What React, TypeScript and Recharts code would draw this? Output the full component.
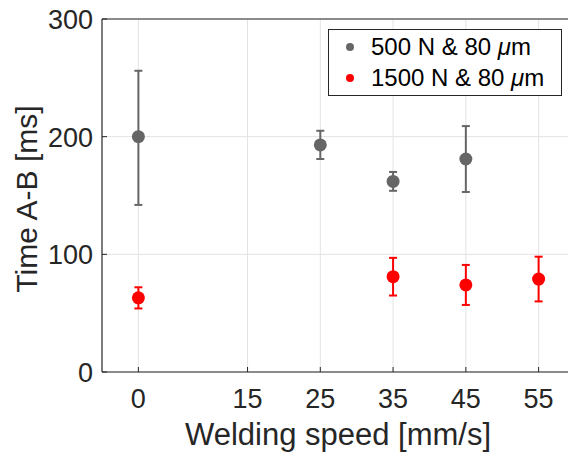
import { ScatterChart, Scatter, XAxis, YAxis, CartesianGrid, ErrorBar, ReferenceLine, Label } from 'recharts';

// welding speed [mm/s], time A-B [ms]
const speeds500 = [0, 25, 35, 45];
const mean500 = [200, 193, 162, 181];
const low500 = [142, 181, 154, 153];
const high500 = [256, 205, 170, 209];

const speeds1500 = [0, 35, 45, 55];
const mean1500 = [63, 81, 74, 79];
const low1500 = [54, 65, 57, 60];
const high1500 = [72, 97, 91, 98];

const xTicks = [0, 15, 25, 35, 45, 55];
const yTicks = [0, 100, 200, 300];

const GRAY = '#666666';
const RED = '#ff0000';
const INK = '#262626';
const FONT = '"Liberation Sans", Arial, sans-serif';

const build = (xs: number[], m: number[], lo: number[], hi: number[]) =>
  xs.map((x, i) => ({ x, y: m[i], err: [m[i] - lo[i], hi[i] - m[i]] }));

const data500 = build(speeds500, mean500, low500, high500);
const data1500 = build(speeds1500, mean1500, low1500, high1500);

const Dot = (color: string) => (props: any) => {
  const { cx, cy } = props;
  return <circle cx={cx} cy={cy} r={6.5} fill={color} />;
};

const XTick = ({ x, y, payload }: any) => (
  <g>
    <line x1={x} y1={y - 14} x2={x} y2={y - 19} stroke={INK} strokeWidth={1} />
    <text x={x} y={y} dy={22} textAnchor="middle" fill={INK} fontSize={27} fontFamily={FONT}>
      {payload.value}
    </text>
  </g>
);

const YTick = ({ x, y, payload }: any) => (
  <g>
    <line x1={x + 9} y1={y} x2={x + 14} y2={y} stroke={INK} strokeWidth={1} />
    <text x={x} y={y} dy={10} textAnchor="end" fill={INK} fontSize={27} fontFamily={FONT}>
      {payload.value}
    </text>
  </g>
);

// plot area spans x 102..575, so the label centre sits at 338 in page pixels
const XLabel = () => (
  <text x={338} y={445} textAnchor="middle" fill={INK} fontSize={31} fontFamily={FONT}>
    Welding speed [mm/s]
  </text>
);

const YLabel = () => (
  <text x={37} y={199} transform="rotate(-90 37 199)" textAnchor="middle" fill={INK} fontSize={30} fontFamily={FONT}>
    Time A-B [ms]
  </text>
);

const App = () => {
  return (
    <div style={{ position: 'fixed', left: 0, top: 0, width: 568, height: 454, overflow: 'hidden', background: '#fff' }}>
      <ScatterChart width={580} height={454} margin={{ top: 19, right: 5, left: 0, bottom: 22 }}>
        <CartesianGrid stroke="#e3e3e3" strokeWidth={1} verticalValues={xTicks} horizontalValues={yTicks} />
        <XAxis
          type="number"
          dataKey="x"
          domain={[-5, 60]}
          ticks={xTicks}
          allowDataOverflow
          height={60}
          tickSize={0}
          tickMargin={14}
          tick={<XTick />}
          stroke={INK}
          axisLine={{ stroke: INK, strokeWidth: 1.2 }}
        >
          <Label content={<XLabel />} />
        </XAxis>
        <YAxis
          type="number"
          dataKey="y"
          domain={[0, 300]}
          ticks={yTicks}
          width={102}
          tickSize={0}
          tickMargin={9}
          tick={<YTick />}
          axisLine={{ stroke: INK, strokeWidth: 1.2 }}
        >
          <Label content={<YLabel />} />
        </YAxis>
        <ReferenceLine y={300} stroke={INK} strokeWidth={1.2} />
        <Scatter data={data500} fill={GRAY} shape={Dot(GRAY)} isAnimationActive={false}>
          <ErrorBar dataKey="err" direction="y" width={4} stroke={GRAY} strokeWidth={2} />
        </Scatter>
        <Scatter data={data1500} fill={RED} shape={Dot(RED)} isAnimationActive={false}>
          <ErrorBar dataKey="err" direction="y" width={4} stroke={RED} strokeWidth={2} />
        </Scatter>
      </ScatterChart>
      <div
        style={{
          position: 'absolute',
          left: 328,
          top: 29,
          width: 232,
          height: 65,
          border: `1px solid ${INK}`,
          background: '#fff',
          fontFamily: FONT,
          fontSize: 24,
          color: '#000',
        }}
      >
        {[
          { name: '500 N & 80 ', color: GRAY, top: 4 },
          { name: '1500 N & 80 ', color: RED, top: 35 },
        ].map((item) => (
          <div key={item.name} style={{ position: 'absolute', left: 17, top: item.top, display: 'flex', alignItems: 'center', whiteSpace: 'nowrap', lineHeight: '26px' }}>
            <span style={{ display: 'inline-block', width: 8, height: 8, borderRadius: '50%', background: item.color, marginRight: 17 }} />
            <span>
              {item.name}
              <i>μ</i>m
            </span>
          </div>
        ))}
      </div>
    </div>
  );
};

export default App;
